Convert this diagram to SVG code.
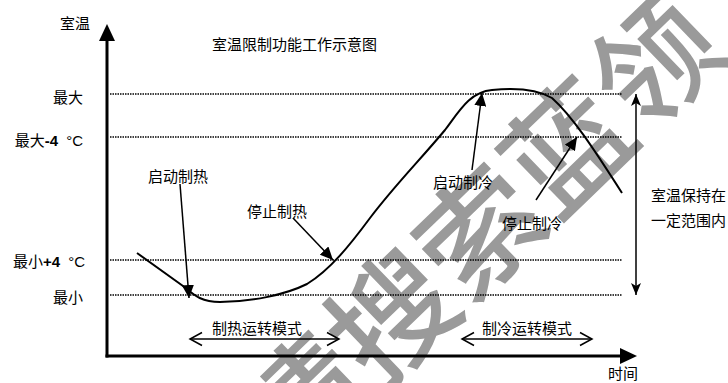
<svg xmlns="http://www.w3.org/2000/svg" width="728" height="383" viewBox="0 0 728 383">
<style>
text{font-family:"Liberation Sans","Noto Sans CJK SC",sans-serif;font-size:15px;fill:#000}
.wm{font-family:"Noto Sans CJK SC",sans-serif;font-size:122px;font-weight:500;fill:#9a9a9a}
.dot{stroke:#000;stroke-width:1.3;stroke-dasharray:1.5 1;fill:none}
.axis{stroke:#000;stroke-width:3;fill:none;stroke-linecap:square}
.ln{stroke:#000;stroke-width:1.5;fill:none}
.curve{stroke:#000;stroke-width:2;fill:none}
.b{font-weight:bold}
</style>
<defs>
<marker id="axh" markerUnits="userSpaceOnUse" viewBox="0 0 17 16" refX="0" refY="8" markerWidth="17" markerHeight="16" orient="auto"><path d="M0,0 L17,8 L0,16 z" fill="#000"/></marker>
<marker id="ah" markerUnits="userSpaceOnUse" viewBox="0 0 13 12" refX="13" refY="6" markerWidth="13" markerHeight="12" orient="auto-start-reverse"><path d="M0,0 L13,6 L0,12 z" fill="#000"/></marker>
<marker id="rh" markerUnits="userSpaceOnUse" viewBox="0 0 12 10" refX="12" refY="5" markerWidth="12" markerHeight="10" orient="auto-start-reverse"><path d="M0,0 L12,5 L0,10 L3,5 z" fill="#000"/></marker>
<marker id="chev" markerUnits="userSpaceOnUse" viewBox="-14 -8 16 16" refX="0" refY="0" markerWidth="16" markerHeight="16" orient="auto-start-reverse"><path d="M-12,-6.5 L0,0 L-12,6.5" fill="none" stroke="#000" stroke-width="1.5"/></marker>
</defs>
<rect width="728" height="383" fill="#fff"/>
<g id="watermark"><text class="wm" text-anchor="middle" dominant-baseline="central" transform="translate(474,226) rotate(-44)">请搜索蓝领</text></g>
<g id="title"><text x="212" y="50">室温限制功能工作示意图</text></g>
<g id="gridlines">
<line class="dot" x1="110" y1="94" x2="622" y2="94"/>
<line class="dot" x1="110" y1="137" x2="622" y2="137"/>
<line class="dot" x1="110" y1="260" x2="622" y2="260"/>
<line class="dot" x1="110" y1="295" x2="622" y2="295"/>
</g>
<g id="axes">
<path class="axis" d="M107,356 V41" marker-end="url(#axh)"/>
<path class="axis" d="M107,356 H620" marker-end="url(#axh)"/>
<text x="60" y="29">室温</text>
<text x="608" y="379">时间</text>
</g>
<g id="levels">
<text x="83" y="103" text-anchor="end">最大</text>
<text x="83" y="146" text-anchor="end">最大<tspan class="b">-4</tspan><tspan dx="4"> °C</tspan></text>
<text x="85" y="267" text-anchor="end">最小<tspan class="b">+4</tspan><tspan dx="4"> °C</tspan></text>
<text x="83" y="303" text-anchor="end">最小</text>
</g>
<g id="curve"><path class="curve" d="M137,253 L183,286 C193,294 200,302 220,302 C250,302 285,295 307,284 C330,270 350,245 370,218 C395,185 420,160 445,130 C460,110 470,92 492,90 C512,88 535,88 552,98 C572,116 592,146 622,193"/></g>
<g id="connectors">
<line class="ln" x1="180" y1="184" x2="189" y2="298" marker-end="url(#ah)"/>
<line class="ln" x1="293" y1="218" x2="333" y2="260" marker-end="url(#ah)"/>
<line class="ln" x1="472" y1="170" x2="482" y2="93" marker-end="url(#ah)"/>
<line class="ln" x1="536" y1="200" x2="577" y2="137" marker-end="url(#ah)"/>
<line class="ln" x1="636" y1="94" x2="636" y2="295" marker-start="url(#rh)" marker-end="url(#rh)"/>
<line class="ln" x1="190" y1="339" x2="339" y2="339" marker-start="url(#chev)" marker-end="url(#chev)"/>
<line class="ln" x1="462" y1="339" x2="592" y2="339" marker-start="url(#chev)" marker-end="url(#chev)"/>
</g>
<g id="n-heat-start"><text x="148" y="182">启动制热</text></g>
<g id="n-heat-stop"><text x="247" y="217">停止制热</text></g>
<g id="n-cool-start"><text x="433" y="188">启动制冷</text></g>
<g id="n-cool-stop"><text x="502" y="229">停止制冷</text></g>
<g id="n-range"><text x="651" y="201">室温保持在</text><text x="651" y="226">一定范围内</text></g>
<g id="n-heat-mode"><text x="212" y="334">制热运转模式</text></g>
<g id="n-cool-mode"><text x="482" y="334">制冷运转模式</text></g>
</svg>
